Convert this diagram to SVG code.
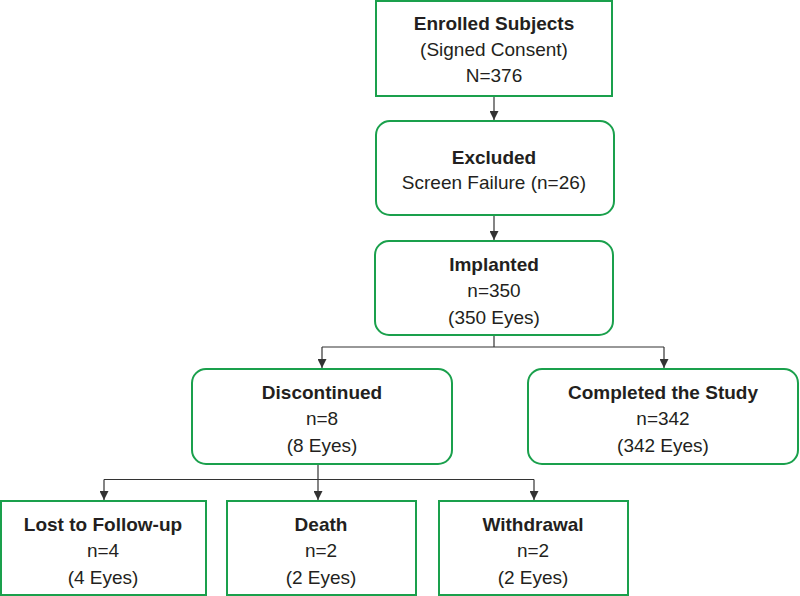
<svg xmlns="http://www.w3.org/2000/svg" width="800" height="596" viewBox="0 0 800 596">
<defs>
<style>
.box{fill:#fff;stroke:#1aa04c;stroke-width:2}
.t{font-family:"Liberation Sans",Arial,sans-serif;font-size:19px;fill:#231f20;text-anchor:middle}
.b{font-weight:bold}
.c{fill:none;stroke:#333;stroke-width:1.2}
</style>
<marker id="ar" viewBox="0 0 10 10" refX="10" refY="5" markerWidth="9" markerHeight="9" markerUnits="userSpaceOnUse" orient="auto">
<path d="M0,0 L10,5 L0,10 z" fill="#333"/>
</marker>
</defs>
<rect width="800" height="596" fill="#fff"/>
<g id="connectors">
<path class="c" d="M494,96 V120" marker-end="url(#ar)"/>
<path class="c" d="M494,216 V240" marker-end="url(#ar)"/>
<path class="c" d="M494,336 V347"/>
<path class="c" d="M322,347 H664"/>
<path class="c" d="M322,347 V368" marker-end="url(#ar)"/>
<path class="c" d="M664,347 V368" marker-end="url(#ar)"/>
<path class="c" d="M318,465 V500" marker-end="url(#ar)"/>
<path class="c" d="M104,479.5 H534"/>
<path class="c" d="M104,479.5 V500" marker-end="url(#ar)"/>
<path class="c" d="M534,479.5 V500" marker-end="url(#ar)"/>
</g>
<g id="enrolled">
<rect class="box" x="376" y="1" width="236" height="95"/>
<text class="t b" x="494" y="30">Enrolled Subjects</text>
<text class="t" x="494" y="56">(Signed Consent)</text>
<text class="t" x="494" y="82">N=376</text>
</g>
<g id="excluded">
<rect class="box" x="376" y="121" width="238" height="94" rx="14"/>
<text class="t b" x="494" y="164">Excluded</text>
<text class="t" x="494" y="189">Screen Failure (n=26)</text>
</g>
<g id="implanted">
<rect class="box" x="375" y="241" width="238" height="94" rx="14"/>
<text class="t b" x="494" y="271">Implanted</text>
<text class="t" x="494" y="297">n=350</text>
<text class="t" x="494" y="324">(350 Eyes)</text>
</g>
<g id="discontinued">
<rect class="box" x="192" y="369" width="260" height="95" rx="14"/>
<text class="t b" x="322" y="399">Discontinued</text>
<text class="t" x="322" y="425">n=8</text>
<text class="t" x="322" y="452">(8 Eyes)</text>
</g>
<g id="completed">
<rect class="box" x="528" y="369" width="270" height="95" rx="14"/>
<text class="t b" x="663" y="399">Completed the Study</text>
<text class="t" x="663" y="425">n=342</text>
<text class="t" x="663" y="452">(342 Eyes)</text>
</g>
<g id="lost">
<rect class="box" x="1" y="501" width="205" height="94"/>
<text class="t b" x="103" y="531">Lost to Follow-up</text>
<text class="t" x="103" y="557">n=4</text>
<text class="t" x="103" y="584">(4 Eyes)</text>
</g>
<g id="death">
<rect class="box" x="227" y="501" width="189" height="94"/>
<text class="t b" x="321" y="531">Death</text>
<text class="t" x="321" y="557">n=2</text>
<text class="t" x="321" y="584">(2 Eyes)</text>
</g>
<g id="withdrawal">
<rect class="box" x="439" y="501" width="189" height="94"/>
<text class="t b" x="533" y="531">Withdrawal</text>
<text class="t" x="533" y="557">n=2</text>
<text class="t" x="533" y="584">(2 Eyes)</text>
</g>
</svg>
